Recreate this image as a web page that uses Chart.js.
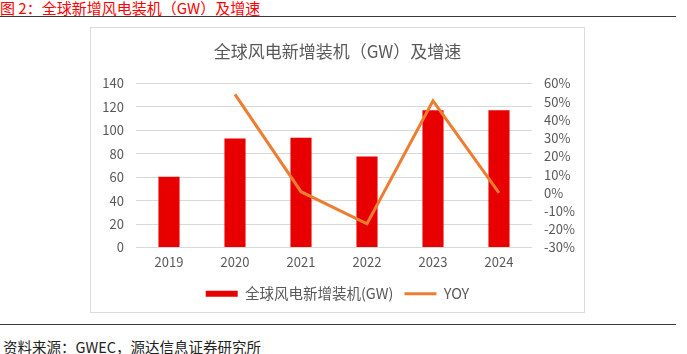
<!DOCTYPE html>
<html>
<head>
<meta charset="utf-8">
<script src="https://cdn.jsdelivr.net/npm/chart.js@4"></script>
<style>
  body { margin: 0; background: #fff; width: 687px; height: 354px; position: relative; overflow: hidden;
         font-family: "Noto Sans CJK SC", sans-serif; }
  #head { position: absolute; left: 0; top: -3px; font-size: 15px; color: #f00; white-space: nowrap; }
  .rule { position: absolute; left: 0; width: 676px; height: 0; border-top: 1.5px solid #3a3a3a; }
  #box { position: absolute; left: 90px; top: 27px; width: 493px; height: 284px; border: 1px solid #dcdcdc; }
  #src { position: absolute; left: 3px; top: 336px; font-size: 14.5px; color: #222; white-space: nowrap; }
</style>
</head>
<body>
<div id="head">图 2：全球新增风电装机（GW）及增速</div>
<div class="rule" style="top:16px"></div>
<div id="box"><canvas id="c" width="493" height="284"></canvas></div>
<div class="rule" style="top:324px"></div>
<div id="src">资料来源：GWEC，源达信息证券研究所</div>
<script>
// ---- data ----
const years = ["2019", "2020", "2021", "2022", "2023", "2024"];
const installs = [60.4, 93, 93.6, 77.6, 117, 117];      // GW
const yoy = [null, 0.54, 0.006, -0.17, 0.504, 0.0];      // growth

const gray = "#595959";
const font = "'Noto Sans CJK SC', sans-serif";

const ctx = document.getElementById("c").getContext("2d");

new Chart(ctx, {
    type: "bar",
    data: {
        labels: years,
        datasets: [
            {
                type: "bar",
                label: "全球风电新增装机(GW)",
                data: installs,
                backgroundColor: "#e80000",
                borderWidth: 0,
                barPercentage: 0.32,
                categoryPercentage: 1,
                yAxisID: "y",
                order: 2
            },
            {
                type: "line",
                label: "YOY",
                data: yoy,
                borderColor: "#ed7d31",
                backgroundColor: "#ed7d31",
                borderWidth: 3,
                pointRadius: 0,
                tension: 0,
                yAxisID: "y1",
                order: 1
            }
        ]
    },
    options: {
        responsive: false,
        animation: false,
        layout: { padding: { left: 0, right: 0, top: 0, bottom: 1 } },
        plugins: {
            title: {
                display: true,
                text: "全球风电新增装机（GW）及增速",
                color: gray,
                font: { family: font, size: 17, weight: "normal" },
                padding: { top: 13, bottom: 22 }
            },
            legend: {
                position: "bottom",
                labels: {
                    usePointStyle: true,
                    pointStyleWidth: 32,
                    boxHeight: 6,
                    padding: 11,
                    color: gray,
                    font: { family: font, size: 14.5 },
                    generateLabels: chart => chart.data.datasets.map((ds, i) => ({
                        text: ds.label,
                        fillStyle: ds.type === "bar" ? ds.backgroundColor : "transparent",
                        strokeStyle: ds.type === "bar" ? ds.backgroundColor : ds.borderColor,
                        lineWidth: ds.type === "bar" ? 0 : 3,
                        pointStyle: ds.type === "bar" ? "rect" : "line",
                        fontColor: gray,
                        datasetIndex: i
                    }))
                }
            },
            tooltip: { enabled: false }
        },
        scales: {
            x: {
                grid: { display: false, drawTicks: false },
                border: { display: false },
                ticks: { color: gray, font: { family: font, size: 13 }, padding: 7 },
                afterFit: s => { s.height = 28; }
            },
            y: {
                position: "left",
                min: 0,
                max: 140,
                ticks: { stepSize: 20, color: gray, font: { family: font, size: 13 }, padding: 12 },
                grid: { color: "#d9d9d9", drawTicks: false },
                border: { display: false },
                afterFit: s => { s.width = 45; }
            },
            y1: {
                position: "right",
                min: -0.3,
                max: 0.6,
                ticks: {
                    stepSize: 0.1,
                    autoSkip: false,
                    color: gray,
                    font: { family: font, size: 13 },
                    padding: 12,
                    callback: v => Math.round(v * 100) + "%"
                },
                grid: { display: false, drawTicks: false },
                border: { display: false },
                afterFit: s => { s.width = 52; }
            }
        }
    }
});
</script>
</body>
</html>
